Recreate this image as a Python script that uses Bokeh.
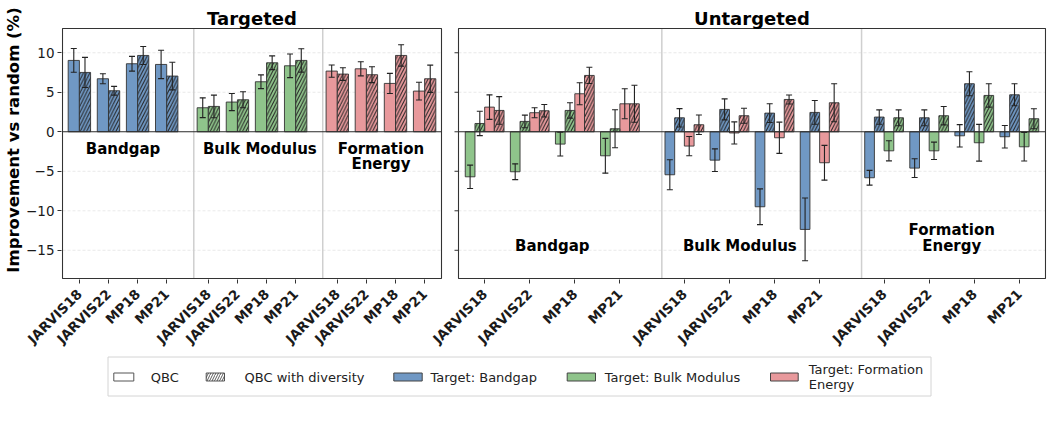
import math

from bokeh.core.properties import value
from bokeh.embed import file_html
from bokeh.layouts import column
from bokeh.models import ColumnDataSource, FixedTicker, LinearAxis, Range1d
from bokeh.plotting import figure
from bokeh.resources import INLINE

# ---------------------------------------------------------------- data
DATASETS = ["JARVIS18", "JARVIS22", "MP18", "MP21"]
TARGETS = ["Bandgap", "Bulk Modulus", "Formation Energy"]
TARGET_COLORS = ["#7098c4", "#8fc48b", "#e8999c"]
GROUP_LINES = [["Bandgap"], ["Bulk Modulus"], ["Formation", "Energy"]]
PANEL_TITLES = ["Targeted", "Untargeted"]
LEGEND_LABELS = ["QBC", "QBC with diversity", "Target: Bandgap",
                 "Target: Bulk Modulus", "Target: Formation\nEnergy"]

# Targeted: evaluated property == targeted property (rows follow TARGETS)
tgt_qbc = [[9.03, 6.71, 8.61, 8.52], [3.04, 3.76, 6.33, 8.35], [7.68, 7.97, 6.12, 5.15]]
tgt_qbc_err = [[1.50, 0.63, 0.93, 1.80], [1.25, 1.08, 0.87, 1.50], [0.78, 0.89, 1.27, 1.12]]
tgt_div = [[7.51, 5.19, 9.66, 7.05], [3.21, 4.05, 8.73, 9.03], [7.30, 7.22, 9.66, 6.71]]
tgt_div_err = [[1.90, 0.55, 1.14, 1.75], [1.43, 1.01, 0.87, 1.48], [0.80, 1.00, 1.35, 1.73]]

# Untargeted: (evaluated property, property the run targeted)
untgt_pairs = [("Bandgap", "Bulk Modulus"), ("Bandgap", "Formation Energy"),
               ("Bulk Modulus", "Bandgap"), ("Bulk Modulus", "Formation Energy"),
               ("Formation Energy", "Bandgap"), ("Formation Energy", "Bulk Modulus")]
untgt_qbc = [[-5.70, -5.06, -1.56, -3.04], [3.12, 2.41, 4.81, 3.54],
             [-5.44, -3.59, -9.49, -12.36], [-1.81, -0.15, -0.76, -3.92],
             [-5.82, -4.60, -0.51, -0.63], [-2.41, -2.41, -1.39, -1.90]]
untgt_qbc_err = [[1.48, 1.00, 1.50, 2.20], [1.55, 0.63, 1.39, 1.90],
                 [1.90, 1.43, 2.26, 3.97], [1.22, 1.40, 1.98, 2.20],
                 [0.93, 1.18, 1.41, 1.43], [1.27, 1.10, 2.32, 1.80]]
untgt_div = [[1.05, 1.31, 2.70, 0.38], [2.70, 2.66, 7.13, 3.54],
             [1.77, 2.83, 2.36, 2.45], [0.89, 2.03, 4.09, 3.67],
             [1.86, 1.77, 6.08, 4.68], [1.77, 2.03, 4.60, 1.65]]
untgt_div_err = [[1.54, 0.80, 0.97, 2.40], [1.75, 0.80, 1.03, 2.34],
                 [1.16, 1.33, 1.18, 1.50], [1.24, 0.95, 0.57, 2.40],
                 [0.91, 1.00, 1.52, 1.39], [1.00, 1.16, 1.48, 1.27]]

Y_TICKS = [-15, -10, -5, 0, 5, 10]

# ---------------------------------------------------------------- geometry
W, TOP_H, LEG_H = 1053, 354, 70
FRAME_L, FRAME_R, FRAME_T, FRAME_B = 61, 1046, 0, 279
PANEL_T, PANEL_B = 28, 278
PANEL_PX = {"targeted": (62, 441), "untargeted": (458, 1045)}

XLO, XHI = -0.58, 12.44
YLO, YHI = -18.57, 13.07
GAP = 4.43                 # distance between target groups
BAR_W = {"targeted": 0.385, "untargeted": 0.215}
FONT = "DejaVu Sans"
INK = "#1a1a1a"
EDGE = "#333333"
TEXT_LIFT = 4.5            # px, raises glyph text to sit on its baseline

ppu_y = (PANEL_B - PANEL_T) / (YHI - YLO)
y_rng = Range1d(YLO - (FRAME_B - PANEL_B) / ppu_y, YHI + (PANEL_T - FRAME_T) / ppu_y)


def panel_range(px):
    ppu = (px[1] - px[0]) / (XHI - XLO)
    return Range1d(XLO - (px[0] - FRAME_L) / ppu, XLO + (FRAME_R - px[0]) / ppu), ppu


x_left, ppu_l = panel_range(PANEL_PX["targeted"])
x_right, ppu_r = panel_range(PANEL_PX["untargeted"])
PANELS = ["targeted", "untargeted"]
RNG_NAME = {"targeted": "default", "untargeted": "untargeted"}


def to_main(x, panel):
    if panel == "targeted":
        return x
    return x_left.start + (x - x_right.start) * (x_left.end - x_left.start) / (x_right.end - x_right.start)


slot = [g * GAP + j for g in range(len(TARGETS)) for j in range(len(DATASETS))]

p = figure(frame_width=FRAME_R - FRAME_L, frame_height=FRAME_B - FRAME_T,
           min_border_left=FRAME_L, min_border_right=W - FRAME_R,
           min_border_top=FRAME_T, min_border_bottom=TOP_H - FRAME_B,
           x_range=x_left, y_range=y_rng, x_axis_type=None, y_axis_type=None,
           output_backend="svg", toolbar_location=None, outline_line_color=None,
           background_fill_color="white", border_fill_color="white")
p.frame_align = False
p.extra_x_ranges = {"untargeted": x_right}

# ---------------------------------------------------------------- axes
yaxis = LinearAxis(ticker=FixedTicker(ticks=Y_TICKS),
                   major_label_overrides={t: str(t).replace("-", "\u2212") for t in Y_TICKS},
                   axis_label="Improvement vs random (%)")
yaxis.axis_line_color = None
yaxis.major_tick_out = 4
yaxis.major_tick_in = 0
yaxis.minor_tick_out = 0
yaxis.major_tick_line_color = EDGE
yaxis.minor_tick_line_color = None
yaxis.major_label_standoff = 3
yaxis.major_label_text_font = FONT
yaxis.major_label_text_font_size = "13.5px"
yaxis.major_label_text_color = INK
yaxis.axis_label_text_font = FONT
yaxis.axis_label_text_font_size = "16.5px"
yaxis.axis_label_text_font_style = "bold"
yaxis.axis_label_text_color = "black"
yaxis.axis_label_standoff = 0
p.add_layout(yaxis, "left")

x_ticks, x_labels = [], {}
for panel in PANELS:
    for k, s in enumerate(slot):
        t = to_main(s, panel)
        x_ticks.append(t)
        x_labels[t] = DATASETS[k % len(DATASETS)]

xaxis = LinearAxis(ticker=FixedTicker(ticks=x_ticks), major_label_overrides=x_labels)
xaxis.axis_line_color = None
xaxis.major_tick_out = 4
xaxis.major_tick_in = 0
xaxis.minor_tick_out = 0
xaxis.major_tick_line_color = EDGE
xaxis.minor_tick_line_color = None
xaxis.major_label_orientation = math.pi / 4
xaxis.major_label_standoff = 8
xaxis.major_label_text_font = FONT
xaxis.major_label_text_font_size = "13.5px"
xaxis.major_label_text_font_style = "bold"
xaxis.major_label_text_color = INK
p.add_layout(xaxis, "below")

# ---------------------------------------------------------------- panel furniture
grid_y = [t for t in Y_TICKS if t != 0]
for panel in PANELS:
    rn = RNG_NAME[panel]
    p.segment(x0=[XLO] * len(grid_y), x1=[XHI] * len(grid_y), y0=grid_y, y1=grid_y,
              line_color="#e3e3e3", line_width=0.8, line_dash="3 2",
              x_range_name=rn, level="underlay")
    seps = [g * GAP - 0.5 for g in range(1, len(TARGETS))]
    p.segment(x0=seps, x1=seps, y0=[YLO] * len(seps), y1=[YHI] * len(seps),
              line_color="#cfcfcf", line_width=1.5, x_range_name=rn, level="underlay")

# ---------------------------------------------------------------- bars


def add_bars(panel, xs, tops, errs, colors, hatched):
    rn = RNG_NAME[panel]
    src = ColumnDataSource(dict(x=xs, top=tops, color=colors,
                                lo=[t - e for t, e in zip(tops, errs)],
                                hi=[t + e for t, e in zip(tops, errs)]))
    kw = dict(hatch_pattern="/", hatch_color="#222222", hatch_scale=6.5, hatch_weight=1.0) if hatched else {}
    p.vbar(x="x", top="top", bottom=0, width=BAR_W[panel], source=src,
           fill_color="color", line_color=EDGE, line_width=0.9, x_range_name=rn, **kw)
    return src


err_sources = []
# targeted panel: two bars per dataset
for s_idx, (vals, errs) in enumerate([(tgt_qbc, tgt_qbc_err), (tgt_div, tgt_div_err)]):
    xs, tops, es, cs = [], [], [], []
    for g in range(len(TARGETS)):
        for j in range(len(DATASETS)):
            xs.append(g * GAP + j + (s_idx - 0.5) * BAR_W["targeted"])
            tops.append(vals[g][j])
            es.append(errs[g][j])
            cs.append(TARGET_COLORS[g])
    err_sources.append(("targeted", add_bars("targeted", xs, tops, es, cs, s_idx == 1)))

# untargeted panel: four bars per dataset (two other targets x two strategies)
for s_idx, (vals, errs) in enumerate([(untgt_qbc, untgt_qbc_err), (untgt_div, untgt_div_err)]):
    xs, tops, es, cs = [], [], [], []
    for r, (evaluated, targeted) in enumerate(untgt_pairs):
        g = TARGETS.index(evaluated)
        order = [t for t in TARGETS if t != evaluated].index(targeted)
        k = 2 * order + s_idx
        for j in range(len(DATASETS)):
            xs.append(g * GAP + j + (k - 1.5) * BAR_W["untargeted"])
            tops.append(vals[r][j])
            es.append(errs[r][j])
            cs.append(TARGET_COLORS[TARGETS.index(targeted)])
    err_sources.append(("untargeted", add_bars("untargeted", xs, tops, es, cs, s_idx == 1)))

# error bars
for panel, src in err_sources:
    rn = RNG_NAME[panel]
    p.segment(x0="x", x1="x", y0="lo", y1="hi", source=src, line_color="#222222",
              line_width=1.1, x_range_name=rn)
    for end in ("lo", "hi"):
        p.scatter(x="x", y=end, source=src, marker="dash", size=6, line_color="#222222",
                  line_width=1.1, x_range_name=rn)

# zero line, spines, frame ticks
for panel in PANELS:
    rn = RNG_NAME[panel]
    p.segment(x0=[XLO], x1=[XHI], y0=[0], y1=[0], line_color="#2a2a2a", line_width=1.2,
              x_range_name=rn)
    p.quad(left=[XLO], right=[XHI], bottom=[YLO], top=[YHI], fill_color=None,
           line_color=EDGE, line_width=1.1, x_range_name=rn)

tick_len = 4 / ppu_r
p.segment(x0=[XLO - tick_len] * len(Y_TICKS), x1=[XLO] * len(Y_TICKS), y0=Y_TICKS, y1=Y_TICKS,
          line_color=EDGE, line_width=1.0, x_range_name="untargeted")

# group names inside the panels
line_step = 15.5 / ppu_y
lift = TEXT_LIFT / ppu_y
name_nudge = {"targeted": [0.0, 0.27, 0.0], "untargeted": [0.0, -0.27, 0.0]}
for panel in PANELS:
    xs, ys, txt = [], [], []
    for g, lines in enumerate(GROUP_LINES):
        for i, line in enumerate(lines):
            xs.append(g * GAP + 1.5 + name_nudge[panel][g])
            if panel == "targeted":
                ys.append(-2.7 - i * line_step + lift)
            else:
                ys.append(-15.0 - (i - (len(lines) - 1)) * line_step + lift)
            txt.append(line)
    p.text(x=xs, y=ys, text=txt, x_range_name=RNG_NAME[panel], text_font=value(FONT),
           text_font_style="bold", text_font_size="15px", text_align="center",
           text_baseline="alphabetic", text_color="black")

# panel titles above each panel
for panel, title in zip(PANELS, PANEL_TITLES):
    p.text(x=[(XLO + XHI) / 2], y=[YHI + 5.7 / ppu_y + lift], text=[title],
           x_range_name=RNG_NAME[panel], text_font=value(FONT), text_font_style="bold",
           text_font_size="18px", text_align="center", text_baseline="alphabetic",
           text_color="black")

# ---------------------------------------------------------------- legend strip
leg = figure(width=W, height=LEG_H, x_range=Range1d(0, W), y_range=Range1d(LEG_H, 0),
             x_axis_type=None, y_axis_type=None, min_border=0, outline_line_color=None,
             toolbar_location=None, output_backend="svg", border_fill_color="white")
leg.frame_align = False
leg.quad(left=[107.5], right=[930.5], top=[1.5], bottom=[40.5], fill_color="white",
         line_color="#d4d4d4", line_width=1)

sw_left = [113.3, 205.7, 393.3, 566.7, 770.0]
sw_right = [133.3, 224.0, 421.7, 595.0, 797.7]
sw_fill = ["white", "white"] + TARGET_COLORS
txt_x = [150.3, 244.0, 430.0, 604.3, 808.3]
sw_mid = 21.5
leg.quad(left=sw_left, right=sw_right, top=[sw_mid - 4] * 5, bottom=[sw_mid + 4] * 5,
         fill_color=sw_fill, line_color=["#555555", "#555555", "#444444", "#444444", "#444444"],
         line_width=1)
leg.quad(left=sw_left[1:2], right=sw_right[1:2], top=[sw_mid - 4], bottom=[sw_mid + 4],
         fill_color=None, line_color=None, hatch_pattern="/", hatch_color="#333333",
         hatch_scale=5, hatch_weight=0.8)

lx, ly, lt = [], [], []
for x0, lab in zip(txt_x, LEGEND_LABELS):
    lines = lab.split("\n")
    for i, line in enumerate(lines):
        lx.append(x0)
        ly.append(sw_mid + (i - (len(lines) - 1) / 2) * 15.6)
        lt.append(line)
leg.text(x=lx, y=ly, text=lt, text_font=value(FONT), text_font_size="13px",
         text_align="left", text_baseline="middle", text_color="#222222")

layout = column(p, leg, spacing=0)
open("out.html", "w").write(file_html(layout, INLINE))
